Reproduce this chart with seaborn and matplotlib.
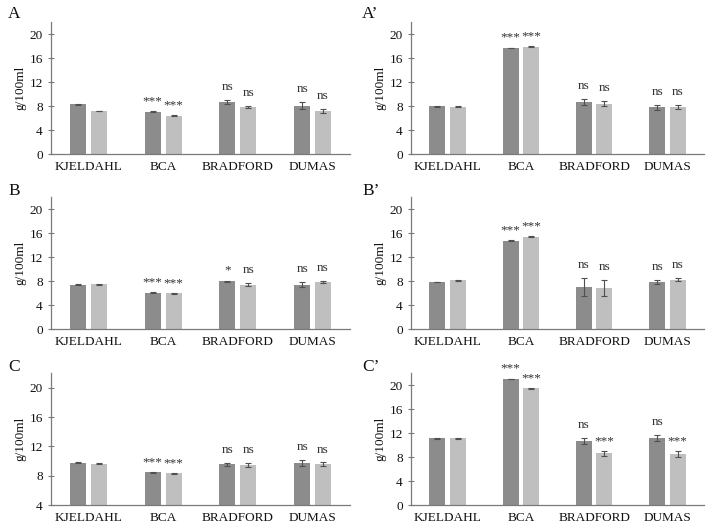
import numpy as np
import pandas as pd
import matplotlib
matplotlib.use('Agg')
import matplotlib.pyplot as plt
import seaborn as sns

# data
methods = ['KJELDAHL', 'BCA', 'BRADFORD', 'DUMAS']

a_dark = [8.3, 7.05, 8.7, 8.05]
a_light = [7.2, 6.4, 7.8, 7.15]
a_dark_err = [0.08, 0.08, 0.3, 0.6]
a_light_err = [0.05, 0.05, 0.2, 0.3]
a_dark_sig = ['', '***', 'ns', 'ns']
a_light_sig = ['', '***', 'ns', 'ns']

a2_dark = [7.95, 17.65, 8.6, 7.8]
a2_light = [7.9, 17.9, 8.4, 7.8]
a2_dark_err = [0.05, 0.05, 0.5, 0.4]
a2_light_err = [0.05, 0.05, 0.4, 0.3]
a2_dark_sig = ['', '***', 'ns', 'ns']
a2_light_sig = ['', '***', 'ns', 'ns']

b_dark = [7.4, 6.05, 7.95, 7.4]
b_light = [7.45, 5.95, 7.4, 7.8]
b_dark_err = [0.05, 0.05, 0.1, 0.4]
b_light_err = [0.05, 0.05, 0.2, 0.2]
b_dark_sig = ['', '***', '*', 'ns']
b_light_sig = ['', '***', 'ns', 'ns']

b2_dark = [7.85, 14.75, 7.0, 7.85]
b2_light = [8.1, 15.4, 6.85, 8.25]
b2_dark_err = [0.05, 0.05, 1.5, 0.3]
b2_light_err = [0.05, 0.05, 1.4, 0.3]
b2_dark_sig = ['', '***', 'ns', 'ns']
b2_light_sig = ['', '***', 'ns', 'ns']

c_dark = [9.75, 8.45, 9.55, 9.75]
c_light = [9.65, 8.3, 9.45, 9.55]
c_dark_err = [0.05, 0.03, 0.2, 0.4]
c_light_err = [0.04, 0.03, 0.25, 0.25]
c_dark_sig = ['', '***', 'ns', 'ns']
c_light_sig = ['', '***', 'ns', 'ns']

c2_dark = [11.1, 21.0, 10.6, 11.1]
c2_light = [11.1, 19.45, 8.6, 8.5]
c2_dark_err = [0.08, 0.05, 0.5, 0.5]
c2_light_err = [0.05, 0.05, 0.4, 0.45]
c2_dark_sig = ['', '***', 'ns', 'ns']
c2_light_sig = ['', '***', '***', '***']

panels = [
    ('A', a_dark, a_light, a_dark_err, a_light_err, a_dark_sig, a_light_sig, 0),
    ('A\u2019', a2_dark, a2_light, a2_dark_err, a2_light_err, a2_dark_sig, a2_light_sig, 0),
    ('B', b_dark, b_light, b_dark_err, b_light_err, b_dark_sig, b_light_sig, 0),
    ('B\u2019', b2_dark, b2_light, b2_dark_err, b2_light_err, b2_dark_sig, b2_light_sig, 0),
    ('C', c_dark, c_light, c_dark_err, c_light_err, c_dark_sig, c_light_sig, 4),
    ('C\u2019', c2_dark, c2_light, c2_dark_err, c2_light_err, c2_dark_sig, c2_light_sig, 0),
]

sns.set_theme(style='white')
plt.rcParams['font.family'] = ['Liberation Serif', 'DejaVu Serif']

W, H = 708, 528
fig = plt.figure(figsize=(W / 100, H / 100), dpi=100)

# axes boxes in pixels: (left, right) per column, (top, bottom) per row
cols = [(51, 350), (411, 704)]
rows = [(22, 154), (197, 329), (373, 505)]
label_pos = [(8, 14), (362, 14), (8, 191), (362, 191), (8, 367), (362, 367)]

palette = ['#8c8c8c', '#bfbfbf']
axis_col = '#7a7a7a'

for k, (name, dark, light, dark_err, light_err, dark_sig, light_sig, ymin) in enumerate(panels):
    r, c = divmod(k, 2)
    x0, x1 = cols[c]
    y0, y1 = rows[r]
    ax = fig.add_axes([x0 / W, 1 - y1 / H, (x1 - x0) / W, (y1 - y0) / H])

    df = pd.DataFrame({
        'method': methods * 2,
        'group': ['g1'] * 4 + ['g2'] * 4,
        'value': dark + light,
    })
    sns.barplot(data=df, x='method', y='value', hue='group', palette=palette,
                width=0.56, errorbar=None, legend=False, saturation=1,
                linewidth=0, ax=ax)

    vals = [dark, light]
    errs = [dark_err, light_err]
    sigs = [dark_sig, light_sig]
    bar_conts = list(ax.containers)
    for i, cont in enumerate(bar_conts):
        for j, bar in enumerate(cont):
            w = bar.get_width()
            bx = bar.get_x()
            bar.set_width(w * 0.77)
            bar.set_x(bx + w * 0.115)
            cx = bx + w / 2
            ax.errorbar(cx, vals[i][j], yerr=errs[i][j], color='#505050',
                        elinewidth=0.8, capsize=2.2, capthick=0.8, zorder=5)
            s = sigs[i][j]
            if s:
                off = 3 if '*' in s else 5
                ax.annotate(s, (cx, vals[i][j] + errs[i][j]),
                            xytext=(0, off), textcoords='offset points',
                            ha='center', va='bottom', fontsize=9.5, color='#333333')

    ax.set_ylim(ymin, 22)
    ax.set_yticks(np.arange(ymin, 21, 4))
    ax.set_xlim(-0.5, 3.5)
    ax.set_xlabel('')
    ax.set_ylabel('g/100ml', fontsize=9.5, labelpad=2, color='#111111')
    for s in ['top', 'right']:
        ax.spines[s].set_visible(False)
    for s in ['left', 'bottom']:
        ax.spines[s].set_color(axis_col)
        ax.spines[s].set_linewidth(0.9)
    ax.tick_params(axis='y', direction='inout', length=4, width=0.8, color=axis_col,
                   labelsize=9.5, pad=4, left=True, labelcolor='#111111')
    ax.tick_params(axis='x', length=0, labelsize=9.5, pad=5, labelcolor='#111111')

    fig.text(label_pos[k][0] / W, 1 - label_pos[k][1] / H, name,
             fontsize=12.5, ha='left', va='center', color='#111111')

fig.savefig('out.png', dpi=100)
